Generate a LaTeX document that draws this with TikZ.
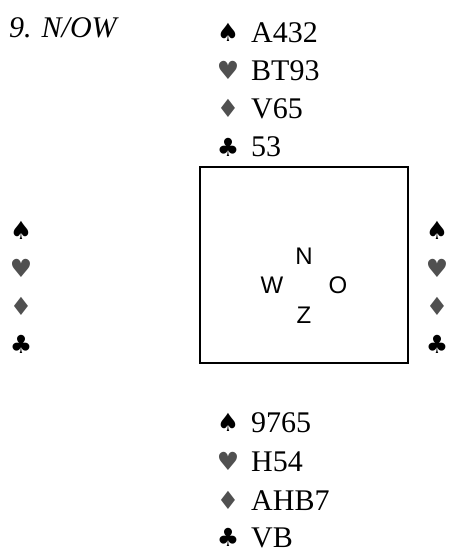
\documentclass[tikz,border=0pt]{standalone}
\usepackage{fontspec}
\setmainfont{Liberation Serif}
\newfontfamily\suitfont{DejaVu Sans}
\newfontfamily\arialfont{Liberation Sans}
\definecolor{suitgrey}{HTML}{505050}
\begin{document}
\begin{tikzpicture}[x=1pt,y=-1pt,
  suit/.style={inner sep=0pt,font=\suitfont\fontsize{25}{25}\selectfont},
  blacksuit/.style={suit,text=black},
  greysuit/.style={suit,text=suitgrey},
  card/.style={inner sep=0pt,anchor=base west,font=\fontsize{30}{30}\selectfont},
  dir/.style={inner sep=0pt,font=\arialfont\fontsize{24}{24}\selectfont},
  title/.style={inner sep=0pt,anchor=base west,font=\itshape\fontsize{30}{30}\selectfont}]
\useasboundingbox (0,0) rectangle (448,552);
\node[title] (t) at (9,37) {9. N/OW};
% North
\node[blacksuit] (ns) at (228,32) {♠};
\node[greysuit] (nh) at (228,70) {♥};
\node[greysuit] (nd) at (228,108) {♦};
\node[blacksuit] (nc) at (228,147) {♣};
\node[card] (nst) at (251,42) {A432};
\node[card] (nht) at (251,80) {BT93};
\node[card] (ndt) at (251,118) {V65};
\node[card] (nct) at (251,156) {53};
% Box
\draw[line width=1.5pt] (200,167) rectangle (408,363);
\node[dir] (N) at (304,256) {N};
\node[dir] (W) at (272,285) {W};
\node[dir] (O) at (338,285) {O};
\node[dir] (Z) at (304,315) {Z};
% West
\node[blacksuit] (ws) at (21,230) {♠};
\node[greysuit] (wh) at (21,268) {♥};
\node[greysuit] (wd) at (21,306) {♦};
\node[blacksuit] (wc) at (21,344) {♣};
% East
\node[blacksuit] (es) at (437,230) {♠};
\node[greysuit] (eh) at (437,268) {♥};
\node[greysuit] (ed) at (437,306) {♦};
\node[blacksuit] (ec) at (437,344) {♣};
% South
\node[blacksuit] (ss) at (228,422) {♠};
\node[greysuit] (sh) at (228,461) {♥};
\node[greysuit] (sd) at (228,500) {♦};
\node[blacksuit] (sc) at (228,537) {♣};
\node[card] (sst) at (251,432) {9765};
\node[card] (sht) at (251,471) {H54};
\node[card] (sdt) at (251,510) {AHB7};
\node[card] (sct) at (251,547) {VB};
\end{tikzpicture}
\end{document}
